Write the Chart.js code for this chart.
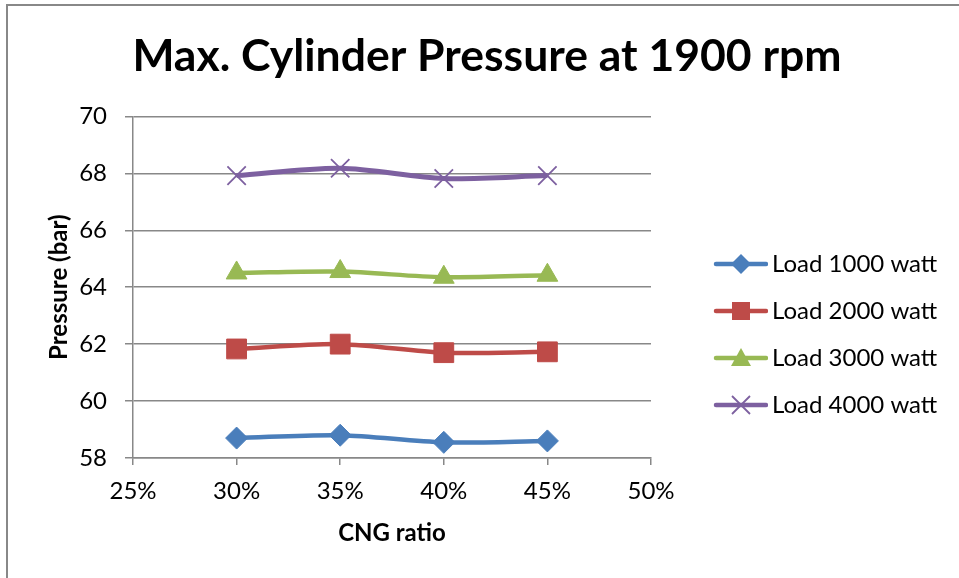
<!DOCTYPE html>
<html>
<head>
<meta charset="utf-8">
<script src="https://cdn.jsdelivr.net/npm/chart.js@4"></script>
<style>
	html, body { margin: 0; padding: 0; background: #fff; }
	#wrap { position: relative; width: 959px; height: 578px; overflow: hidden; }
	#frame { position: absolute; left: 6px; top: 4px; width: 970px; height: 600px; border-left: 2px solid #888; border-top: 2px solid #888; }
	#chart-area { position: absolute; left: 0; top: 0; }
</style>
</head>
<body>
<div id="wrap">
	<div id="frame"></div>
	<canvas id="chart-area" width="959" height="578"></canvas>
</div>
<script>
var ratios = [30, 35, 40, 45];
var load1000 = [58.7, 58.8, 58.55, 58.6];
var load2000 = [61.83, 62.0, 61.7, 61.73];
var load3000 = [64.5, 64.55, 64.35, 64.42];
var load4000 = [67.92, 68.18, 67.82, 67.92];
var seriesLabels = ['Load 1000 watt', 'Load 2000 watt', 'Load 3000 watt', 'Load 4000 watt'];

var colors = {
	blue: '#4a7ebb',
	red: '#be4b48',
	green: '#98b954',
	purple: '#7d60a0',
	grid: '#888888'
};

function points(values) {
	return ratios.map(function(r, i) { return { x: r, y: values[i] }; });
}

// small canvas used as legend symbol: line with the marker in the middle
function legendIcon(color, style) {
	var c = document.createElement('canvas');
	c.width = 102;
	c.height = 30;
	var g = c.getContext('2d');
	g.strokeStyle = color;
	g.fillStyle = color;
	g.lineWidth = 4.5;
	g.lineCap = 'round';
	g.beginPath();
	g.moveTo(50, 15);
	g.lineTo(100, 15);
	g.stroke();
	var cx = 75, cy = 15;
	g.beginPath();
	if (style == 'rectRot') {
		g.moveTo(cx, cy - 10); g.lineTo(cx + 10, cy); g.lineTo(cx, cy + 10); g.lineTo(cx - 10, cy);
		g.closePath(); g.fill();
	} else if (style == 'rect') {
		g.fillRect(cx - 9, cy - 9, 18, 18);
	} else if (style == 'triangle') {
		g.moveTo(cx, cy - 10); g.lineTo(cx + 10, cy + 8); g.lineTo(cx - 10, cy + 8);
		g.closePath(); g.fill();
	} else {
		g.lineWidth = 1.8;
		g.lineCap = 'butt';
		g.moveTo(cx - 9, cy - 9); g.lineTo(cx + 9, cy + 9);
		g.moveTo(cx + 9, cy - 9); g.lineTo(cx - 9, cy + 9);
		g.stroke();
	}
	return c;
}

function makeSet(label, values, color, style, radius, lineW) {
	return {
		label: label,
		data: points(values),
		borderColor: color,
		backgroundColor: color,
		borderWidth: lineW,
		tension: 0.3,
		pointStyle: style,
		pointRadius: radius,
		pointHoverRadius: radius,
		pointBackgroundColor: color,
		pointBorderColor: color,
		pointBorderWidth: style == 'crossRot' ? 1.8 : 1,
		icon: legendIcon(color, style)
	};
}

var legendWidthPlugin = {
	id: 'legendWidth',
	beforeLayout: function(chart) {
		var lg = chart.legend;
		if (lg && !lg._fixedWidth) {
			var fit = lg.fit;
			lg.fit = function() {
				fit.call(this);
				this.width = 308;
			};
			lg._fixedWidth = true;
		}
	}
};

Chart.defaults.font.family = 'Lato';
Chart.defaults.color = '#000';

var config = {
	type: 'line',
	data: {
		datasets: [
			makeSet(seriesLabels[0], load1000, colors.blue, 'rectRot', 11, 4.5),
			makeSet(seriesLabels[1], load2000, colors.red, 'rect', 14, 4.5),
			makeSet(seriesLabels[2], load3000, colors.green, 'triangle', 12, 4.5),
			makeSet(seriesLabels[3], load4000, colors.purple, 'crossRot', 13, 5)
		]
	},
	options: {
		responsive: false,
		animation: false,
		layout: { padding: { left: 15, right: 0, top: 0, bottom: 0 } },
		scales: {
			x: {
				type: 'linear',
				min: 25,
				max: 50,
				afterFit: function(s) { s.height = 120; },
				ticks: {
					stepSize: 5,
					padding: 12,
					font: { size: 24 },
					callback: function(v) { return v + '%'; }
				},
				grid: { drawOnChartArea: false, drawTicks: true, tickLength: 7, color: colors.grid, lineWidth: 1.5 },
				border: { color: colors.grid, width: 1.5 },
				title: { display: true, text: 'CNG ratio', font: { size: 24, weight: 'bold' }, padding: { top: 0, bottom: 30 } }
			},
			y: {
				min: 58,
				max: 70,
				afterFit: function(s) { s.width = 118; },
				ticks: { stepSize: 2, padding: 18, font: { size: 24 } },
				grid: { color: colors.grid, lineWidth: 1.5, tickLength: 8 },
				border: { color: colors.grid, width: 1.5 },
				title: { display: true, text: 'Pressure (bar)', font: { size: 24, weight: 'bold' }, padding: { top: 30, bottom: 0 } }
			}
		},
		plugins: {
			title: {
				display: true,
				text: 'Max. Cylinder Pressure at 1900 rpm',
				font: { size: 44.5, weight: 'bold' },
				padding: { top: 30, bottom: 33 }
			},
			legend: {
				position: 'right',
				title: { display: true, text: ' ', font: { size: 10 }, padding: { top: 79, bottom: 0 } },
				labels: {
					usePointStyle: true,
					pointStyleWidth: 86,
					padding: 23,
					font: { size: 24 },
					generateLabels: function(chart) {
						return chart.data.datasets.map(function(ds, i) {
							return {
								text: ds.label,
								pointStyle: ds.icon,
								fillStyle: ds.borderColor,
								strokeStyle: ds.borderColor,
								lineWidth: 0,
								hidden: false,
								datasetIndex: i,
								fontColor: '#000'
							};
						});
					}
				}
			},
			tooltip: { enabled: false }
		}
	},
	plugins: [legendWidthPlugin]
};

var ctx01 = document.getElementById('chart-area').getContext('2d');
var chart01 = new Chart(ctx01, config);
</script>
</body>
</html>
